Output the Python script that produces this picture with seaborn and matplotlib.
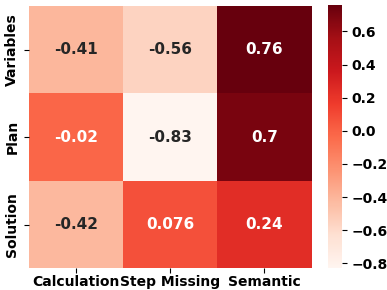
import numpy as np
import pandas as pd
import matplotlib
matplotlib.use('Agg')
import matplotlib.pyplot as plt
import seaborn as sns

rows = ['Variables', 'Plan', 'Solution']
cols = ['Calculation', 'Step Missing', 'Semantic']
calc = [-0.41, -0.02, -0.42]
step = [-0.56, -0.83, 0.076]
sem = [0.76, 0.7, 0.24]

df = pd.DataFrame({'Calculation': calc, 'Step Missing': step, 'Semantic': sem}, index=rows)

fig = plt.figure(figsize=(3.87, 2.9), dpi=100)
ax = fig.add_axes([0.075, 0.075, 0.73, 0.905])
cax = fig.add_axes([0.848, 0.075, 0.036, 0.908])

sns.heatmap(df, cmap='Reds', annot=True, fmt='.2g', ax=ax, cbar_ax=cax,
            annot_kws={'fontsize': 11, 'fontweight': 'bold'})

ax.tick_params(axis='both', labelsize=10)
ax.tick_params(axis='x', pad=1.5)
for lab in ax.get_xticklabels() + ax.get_yticklabels():
    lab.set_fontweight('bold')
cax.tick_params(labelsize=10)
for lab in cax.get_yticklabels():
    lab.set_fontweight('bold')

fig.savefig('out.png', dpi=100)
